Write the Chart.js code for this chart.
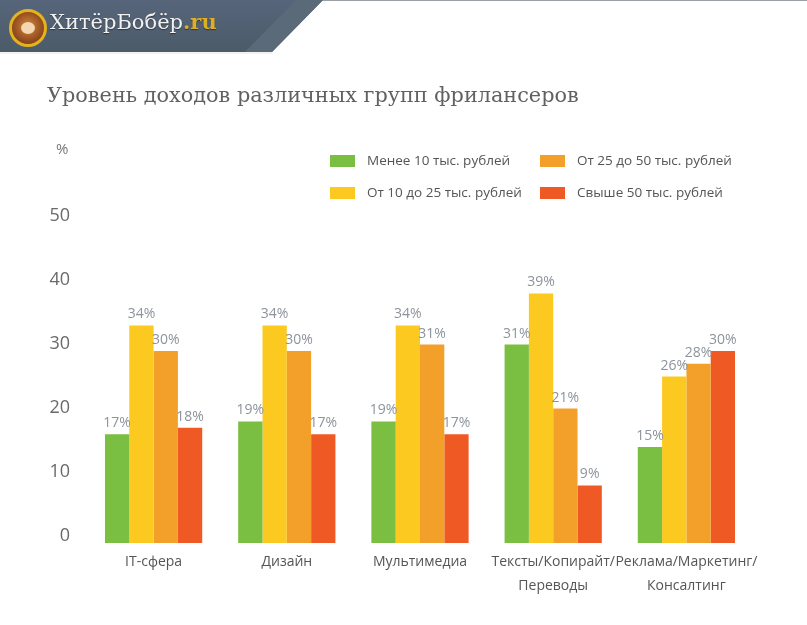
<!DOCTYPE html>
<html>
<head>
<meta charset="utf-8">
<script src="https://cdn.jsdelivr.net/npm/chart.js@4.4.1/dist/chart.umd.min.js"></script>
<style>
  html, body { margin: 0; padding: 0; background: #ffffff; }
  #wrap { position: relative; width: 807px; height: 625px; overflow: hidden; background: #ffffff; }
  #c { position: absolute; left: 0; top: 0; }
  #topline { position: absolute; left: 300px; top: 0; width: 507px; height: 1px; background: #9aa0a6; }
  #hdr { position: absolute; left: 0; top: 0; width: 323px; height: 52px;
         background: linear-gradient(180deg, #56657a 0%, #4c5b69 100%);
         clip-path: polygon(0 0, 323px 0, 272px 52px, 0 52px); }
  #stripe { position: absolute; left: 0; top: 0; width: 323px; height: 52px;
         background: #5a6a79;
         clip-path: polygon(296px 0, 323px 0, 272px 52px, 245px 52px); }
  #hdrline { position: absolute; left: 0; top: 52px; width: 272px; height: 2px; background: #f2f2f2; }
  #logo { position: absolute; left: 9px; top: 9px; width: 32px; height: 32px; border-radius: 50%;
          border: 3px solid #e5b21f;
          background: radial-gradient(circle at 50% 45%, #d58a3c 0%, #9a5222 55%, #5e2f12 100%); }
  #logo-face { position: absolute; left: 9px; top: 10px; width: 14px; height: 12px; border-radius: 50%;
          background: #f3d7b0; }
  #brand { position: absolute; left: 50px; top: 9px; font-family: "DejaVu Serif", serif; font-size: 21px;
           color: #f1f1f1; text-shadow: 0 1px 1px #2c3640; white-space: nowrap; }
  #brand span { color: #dcae2c; font-weight: bold; }
  #title { position: absolute; left: 47px; top: 83px; font-family: "DejaVu Serif", serif; font-size: 20.8px;
           color: #616161; white-space: nowrap; }
  #pct { position: absolute; left: 56px; top: 138px; font-family: "Open Sans", sans-serif; font-size: 15px; color: #777; }
  .lg { position: absolute; font-family: "Open Sans", sans-serif; font-size: 13.5px; color: #555; white-space: nowrap; }
  .sw { position: absolute; width: 25px; height: 12px; }
</style>
</head>
<body>
<div id="wrap">
  <canvas id="c" width="807" height="625"></canvas>
  <div id="topline"></div>
  <div id="hdr"></div>
  <div id="stripe"></div>
  <div id="hdrline"></div>
  <div id="logo"><div id="logo-face"></div></div>
  <div id="brand">ХитёрБобёр<span>.ru</span></div>
  <div id="title">Уровень доходов различных групп фрилансеров</div>
  <div id="pct">%</div>
  <div id="legend"></div>
</div>
<script>
// ---- data ----
const categories = [
  ['IT-сфера'],
  ['Дизайн'],
  ['Мультимедиа'],
  ['Тексты/Копирайт/', 'Переводы'],
  ['Реклама/Маркетинг/', 'Консалтинг']
];
const seriesNames = [
  'Менее 10 тыс. рублей',
  'От 10 до 25 тыс. рублей',
  'От 25 до 50 тыс. рублей',
  'Свыше 50 тыс. рублей'
];
const under10 = [17, 19, 19, 31, 15];
const from10to25 = [34, 34, 34, 39, 26];
const from25to50 = [30, 30, 31, 21, 28];
const over50 = [18, 17, 17, 9, 30];
const yTicks = [0, 10, 20, 30, 40, 50];

const colors = ['#7bbf42', '#fcc920', '#f2a02a', '#ef5a24'];
const seriesValues = [under10, from10to25, from25to50, over50];

// ---- HTML legend (2 x 2 grid, built from the series arrays) ----
const legendPos = [ [330, 155], [330, 187], [540, 155], [540, 187] ];
const lg = document.getElementById('legend');
seriesNames.forEach((name, i) => {
  const sw = document.createElement('div');
  sw.className = 'sw';
  sw.style.left = legendPos[i][0] + 'px';
  sw.style.top = legendPos[i][1] + 'px';
  sw.style.background = colors[i];
  lg.appendChild(sw);
  const t = document.createElement('div');
  t.className = 'lg';
  t.textContent = name;
  t.style.left = (legendPos[i][0] + 37) + 'px';
  t.style.top = (legendPos[i][1] - 4) + 'px';
  lg.appendChild(t);
});

// ---- value labels above bars ----
const valueLabels = {
  id: 'valueLabels',
  afterDatasetsDraw(chart) {
    const ctx = chart.ctx;
    ctx.save();
    ctx.font = '14px "Liberation Sans Narrow", "Open Sans", sans-serif';
    ctx.fillStyle = '#8d939c';
    ctx.textAlign = 'center';
    ctx.textBaseline = 'bottom';
    chart.data.datasets.forEach((ds, di) => {
      const meta = chart.getDatasetMeta(di);
      meta.data.forEach((el, i) => {
        ctx.fillText(ds.data[i] + '%', el.x, el.y - 4);
      });
    });
    ctx.restore();
  }
};

new Chart(document.getElementById('c'), {
  type: 'bar',
  data: {
    labels: categories,
    datasets: seriesNames.map((n, i) => ({
      label: n,
      data: seriesValues[i],
      backgroundColor: colors[i],
      borderWidth: 0,
      barPercentage: 1.0,
      categoryPercentage: 0.73
    }))
  },
  options: {
    responsive: false,
    animation: false,
    devicePixelRatio: 1,
    layout: { padding: { top: 223, right: 54, bottom: 20, left: 0 } },
    plugins: { legend: { display: false }, tooltip: { enabled: false }, title: { display: false } },
    scales: {
      x: {
        grid: { display: false, drawTicks: false },
        border: { display: false },
        ticks: {
          color: '#555',
          font: { family: '"Open Sans", sans-serif', size: 14, lineHeight: '24px' },
          padding: 7,
          maxRotation: 0,
          autoSkip: false
        }
      },
      y: {
        min: 0,
        max: 50,
        afterBuildTicks: (s) => { s.ticks = yTicks.map(v => ({ value: v })); },
        afterFit: (s) => { s.width = 87; },
        grid: { display: false, drawTicks: false },
        border: { display: false },
        ticks: {
          color: '#6a6a6a',
          font: { family: '"Open Sans", sans-serif', size: 18 },
          padding: 17,
          labelOffset: -7
        }
      }
    }
  },
  plugins: [valueLabels]
});
</script>
</body>
</html>
